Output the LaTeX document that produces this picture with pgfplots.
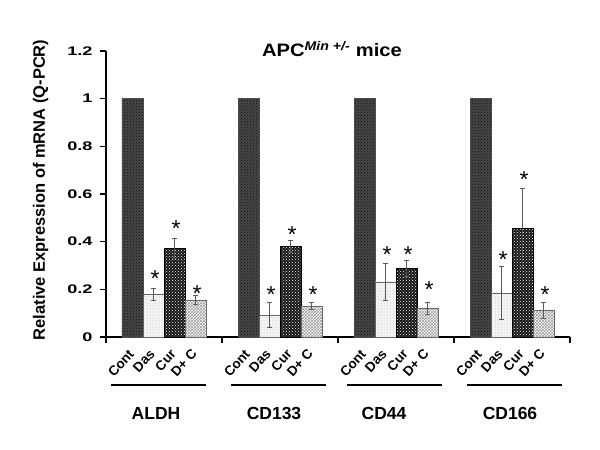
\documentclass[border=0pt]{standalone}
\usepackage{fontspec}
\setmainfont{Liberation Sans}
\newfontfamily\tickfont{Liberation Sans}[FakeStretch=1.45]
\newfontfamily\titlefont{Liberation Sans}[FakeStretch=1.12]
\usepackage{pgfplots}
\pgfplotsset{compat=1.18}
\usetikzlibrary{patterns}
\begin{document}
\begin{tikzpicture}
\useasboundingbox (0,0) rectangle (600pt,450pt);
\begin{axis}[
  at={(106pt,113pt)}, anchor=south west,
  scale only axis, width=464pt, height=286pt,
  xmin=0, xmax=464, ymin=0, ymax=1.2,
  axis lines*=left,
  axis line style={line width=1.6pt},
  clip=false,
  tick align=outside,
  major tick length=6pt,
  tick style={line width=1.2pt, black},
  xtick={0,116,232,348,464},
  xticklabels={},
  ytick={0,0.2,0.4,0.6,0.8,1,1.2},
  yticklabel style={font=\tickfont\bfseries\fontsize{12.5}{12.5}\selectfont, xshift=-4pt},
  /pgf/number format/assume math mode=true,
  extra x ticks={26.5,47.5,68.5,89.5,142.5,163.5,184.5,205.5,258.5,279.5,300.5,321.5,374.5,395.5,416.5,437.5},
  extra x tick labels={Cont,Das,Cur,D+ C,Cont,Das,Cur,D+ C,Cont,Das,Cur,D+ C,Cont,Das,Cur,D+ C},
  extra x tick style={major tick length=0pt, tick label style={yshift=-12pt, xshift=1pt, rotate=48, anchor=east, font=\bfseries\fontsize{13.5}{13.5}\selectfont}},
  error bars/y dir=both, error bars/y explicit,
  error bars/error bar style={line width=0.7pt, black!65},
  error bars/error mark options={rotate=90, mark size=2.5pt, line width=0.7pt, black!65},
]
% Cont
\addplot[ybar, bar width=21, bar shift=0pt, draw=black!70, line width=0.4pt, fill=black!72,
  postaction={pattern=crosshatch dots, pattern color=black!95}]
  coordinates {(26.5,1) (142.5,1) (258.5,1) (374.5,1)};
% Das
\addplot[ybar, bar width=21, bar shift=0pt, draw=black!60, line width=0.4pt, fill=black!4,
  postaction={pattern=dots, pattern color=black!35}]
  coordinates {(47.5,0.18) +- (0,0.025) (163.5,0.092) +- (0,0.052) (279.5,0.232) +- (0,0.078) (395.5,0.185) +- (0,0.11)};
% Cur
\addplot[ybar, bar width=21, bar shift=0pt, draw=black, line width=0.4pt, fill=black!92,
  postaction={pattern=crosshatch dots, pattern color=white}]
  coordinates {(68.5,0.372) +- (0,0.042) (184.5,0.38) +- (0,0.025) (300.5,0.287) +- (0,0.034) (416.5,0.457) +- (0,0.165)};
% D+C
\addplot[ybar, bar width=21, bar shift=0pt, draw=black!60, line width=0.4pt, fill=white,
  postaction={pattern=crosshatch, pattern color=black!40}]
  coordinates {(89.5,0.155) +- (0,0.02) (205.5,0.13) +- (0,0.016) (321.5,0.12) +- (0,0.026) (437.5,0.113) +- (0,0.034)};
% significance stars
\addplot[draw=none, mark=none, forget plot, error bars/y dir=none,
  nodes near coords={*},
  every node near coord/.append style={font=\fontsize{23}{23}\selectfont, anchor=center, yshift=-4.9pt, inner sep=0pt}]
  coordinates {(49,0.264) (70,0.474) (91,0.201)
               (165,0.197) (186,0.449) (207,0.197)
               (281,0.365) (302,0.365) (323,0.218)
               (397,0.344) (418,0.68) (439,0.197)};
% group underlines
\draw[line width=2pt] (axis cs:5,-0.2014) -- (axis cs:100,-0.2014);
\draw[line width=2pt] (axis cs:125,-0.2014) -- (axis cs:220,-0.2014);
\draw[line width=2pt] (axis cs:241,-0.2014) -- (axis cs:336,-0.2014);
\draw[line width=2pt] (axis cs:361,-0.2014) -- (axis cs:456,-0.2014);
% group names
\node[anchor=base, font=\bfseries\fontsize{17.5}{17.5}\selectfont] at (axis cs:50,-0.348) {ALDH};
\node[anchor=base, font=\bfseries\fontsize{17.5}{17.5}\selectfont] at (axis cs:168,-0.348) {CD133};
\node[anchor=base, font=\bfseries\fontsize{17.5}{17.5}\selectfont] at (axis cs:278,-0.348) {CD44};
\node[anchor=base, font=\bfseries\fontsize{17.5}{17.5}\selectfont] at (axis cs:404,-0.348) {CD166};
% title
\node[anchor=base, font=\titlefont\bfseries\fontsize{18}{18}\selectfont] at (axis cs:226,1.176) {APC\textsuperscript{\itshape Min +/-} mice};
% y label
\node[rotate=90, anchor=base, font=\bfseries\fontsize{16.5}{16.5}\selectfont] at (axis cs:-61,0.617) {Relative Expression of mRNA (Q-PCR)};
\end{axis}
\end{tikzpicture}
\end{document}
